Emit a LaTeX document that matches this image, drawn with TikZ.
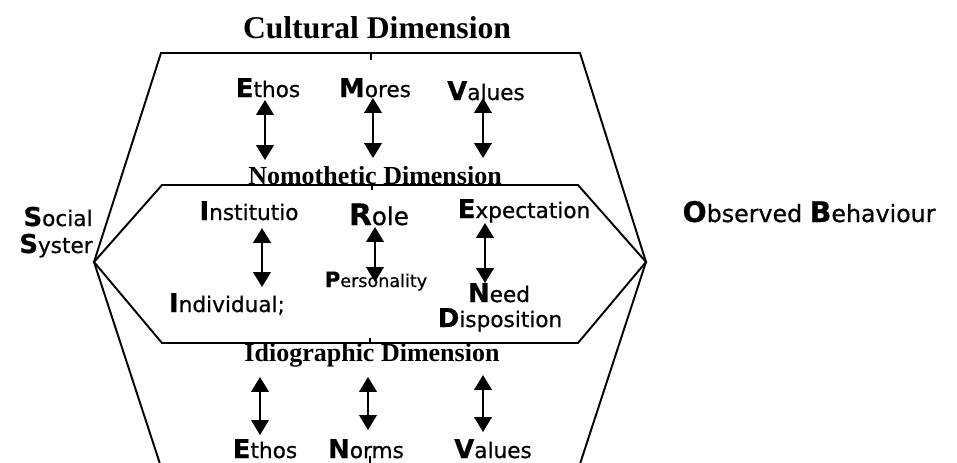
\documentclass[tikz,border=0pt]{standalone}
\usepackage{fontspec}
\setmainfont{Liberation Serif}
\newfontfamily\lblfont[FakeBold=0.6]{DejaVu Sans}
\usetikzlibrary{arrows.meta}

% first letter of a word, bold and a bit larger
\newcommand\ini[1]{\scalebox{1.2}{\bfseries #1}}

\begin{document}
\begin{tikzpicture}[
    x=0.02cm, y=-0.02cm,
    dimlabel/.style={font=\bfseries\fontsize{14.8}{16}\selectfont, anchor=base,
      inner sep=0pt},
    word/.style={font=\lblfont\fontsize{12.3}{14}\selectfont, anchor=base,
      inner sep=0pt},
    smallword/.style={word, font=\lblfont\fontsize{10}{12}\selectfont},
    link/.style={{Triangle[width=10pt,length=8.5pt]}-{Triangle[width=10pt,length=8.5pt]},
      line width=1.2pt},
    hex/.style={line width=1.1pt, line join=miter}
  ]
    \useasboundingbox (0,0) rectangle (957,463);
    \clip (0,0) rectangle (957,463);

    % the two hexagons
    \coordinate (lv) at (94,262);
    \coordinate (rv) at (646,262);
    \draw[hex] (162,470) -- (lv) -- (161,53) -- (580,53) -- (rv) -- (578,470);
    \draw[hex] (lv) -- (162,185) -- (578,185) -- (rv) -- (578,343) -- (162,343) -- cycle;
    \draw[hex] (371,53) -- (371,60);
    \draw[hex] (372,185) -- (372,190);
    \draw[hex] (370,343) -- (370,338);
    \draw[hex] (370,463) -- (370,456);

    \node[dimlabel, font=\bfseries\fontsize{18}{20}\selectfont] (cult) at (377,38)
      {Cultural Dimension};
    \node[dimlabel] (nomo) at (375,184) {Nomothetic Dimension};
    \node[dimlabel] (idio) at (372,361) {Idiographic Dimension};

    % cultural row
    \node[word] (ethos1) at (268,97)  {\ini{E}thos};
    \node[word] (mores)  at (375,97)  {\ini{M}ores};
    \node[word] (vals1)  at (486,100) {\ini{V}alues};

    % nomothetic / idiographic block
    \node[word] (social) at (58,226)  {\ini{S}ocial};
    \node[word] (syst)   at (56,253)  {\ini{S}yster};
    \node[word] (inst)   at (249,220) {\ini{I}nstitutio};
    \node[word, font=\lblfont\fontsize{14}{16}\selectfont] (role) at (379,225)
      {\ini{R}ole};
    \node[word] (expect) at (524,218) {\ini{E}xpectation};
    \node[smallword] (pers) at (376,287) {\ini{P}ersonality};
    \node[word] (indiv)  at (227,312) {\ini{I}ndividual;};
    \node[word] (need)   at (499,302) {\ini{N}eed};
    \node[word] (disp)   at (500,327) {\ini{D}isposition};
    \node[word, font=\lblfont\fontsize{13.5}{15}\selectfont] (obs) at (809,222)
      {\ini{O}bserved \ini{B}ehaviour};

    % idiographic row
    \node[word] (ethos2) at (265,458) {\ini{E}thos};
    \node[word] (norms)  at (366,458) {\ini{N}orms};
    \node[word] (vals2)  at (493,458) {\ini{V}alues};

    % arrow ends
    \coordinate (a1) at (265,100); \coordinate (b1) at (265,160);
    \coordinate (a2) at (373,98);  \coordinate (b2) at (373,158);
    \coordinate (a3) at (483,98);  \coordinate (b3) at (483,158);
    \coordinate (a4) at (262,228); \coordinate (b4) at (262,287);
    \coordinate (a5) at (375,227); \coordinate (b5) at (375,282);
    \coordinate (a6) at (485,223); \coordinate (b6) at (485,283);
    \coordinate (a7) at (260,377); \coordinate (b7) at (260,435);
    \coordinate (a8) at (368,377); \coordinate (b8) at (368,430);
    \coordinate (a9) at (483,375); \coordinate (b9) at (483,432);

    \draw[link] (a1) -- (b1);
    \draw[link] (a2) -- (b2);
    \draw[link] (a3) -- (b3);
    \draw[link] (a4) -- (b4);
    \draw[link] (a5) -- (b5);
    \draw[link] (a6) -- (b6);
    \draw[link] (a7) -- (b7);
    \draw[link] (a8) -- (b8);
    \draw[link] (a9) -- (b9);
  \end{tikzpicture}
\end{document}
